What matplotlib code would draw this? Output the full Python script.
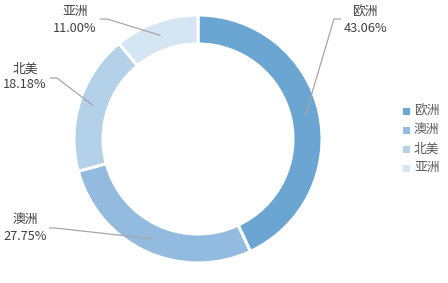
import numpy as np
import matplotlib
matplotlib.use("Agg")
import matplotlib.pyplot as plt
from matplotlib.patches import Rectangle

plt.rcParams['font.family'] = ['Noto Sans CJK SC', 'DejaVu Sans']

regions = ["欧洲", "澳洲", "北美", "亚洲"]
shares = [43.06, 27.75, 18.18, 11.00]
colors = ["#6BA5D2", "#92BBDF", "#B3D1E9", "#D4E5F4"]
text_color = "#404040"
legend_color = "#595959"

W, H = 448, 283
fig = plt.figure(figsize=(W / 100, H / 100), dpi=100)
ax = fig.add_axes([0, 0, 1, 1])

cx, cy = 198, H - 139
r_out, ring = 124, 29
wedges, _ = ax.pie(shares, colors=colors, startangle=90, counterclock=False,
                   radius=r_out, center=(cx, cy), frame=True,
                   wedgeprops=dict(width=ring, edgecolor="white", linewidth=2.2))
ax.set_xlim(0, W)
ax.set_ylim(0, H)
ax.axis("off")

# elbow point, horizontal end, text centre (pixels from top-left)
label_pos = {
    "欧洲": ((334, 19), (341, 19), (365, 20)),
    "亚洲": ((107, 19), (100, 19), (75, 20)),
    "北美": ((57, 78), (50, 78), (25, 77)),
    "澳洲": ((55, 228), (49, 228), (25, 228)),
}
r_mid = r_out - ring / 2 + 0.5
for w, name, val in zip(wedges, regions, shares):
    ang = np.deg2rad((w.theta1 + w.theta2) / 2)
    sx, sy = cx + r_mid * np.cos(ang), cy + r_mid * np.sin(ang)
    (ex, ey), (hx, hy), (tx, ty) = label_pos[name]
    ax.plot([sx, ex, hx], [sy, H - ey, H - hy], color="#A6A6A6", lw=0.9,
            solid_capstyle="butt")
    ax.text(tx, H - ty, f"{name}\n{val:.2f}%", ha="center", va="center",
            fontsize=9.2, color=text_color, linespacing=1.3)

# legend
for i, (name, c) in enumerate(zip(regions, colors)):
    y = H - (111 + 19 * i)
    ax.add_patch(Rectangle((403, y - 3.5), 7, 7, color=c, lw=0))
    ax.text(414, y, name, ha="left", va="center", fontsize=9.2, color=legend_color)

fig.savefig("out.png", dpi=100)
